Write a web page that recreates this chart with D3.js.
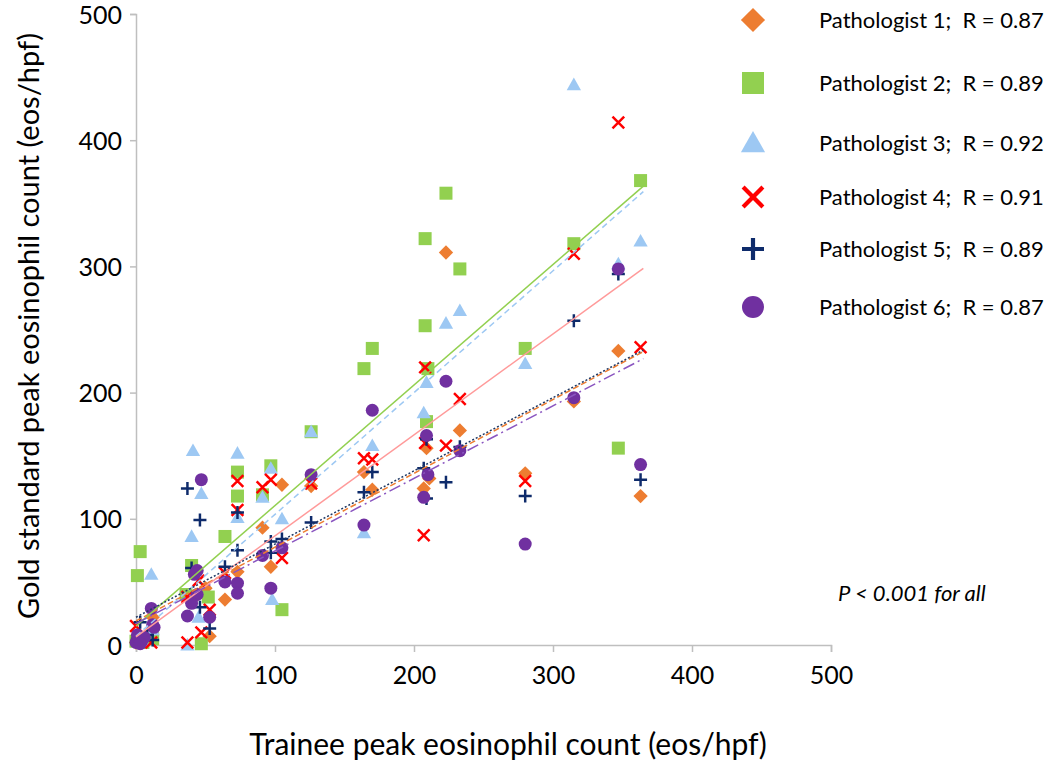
<!DOCTYPE html>
<html><head><meta charset="utf-8">
<script src="https://cdn.jsdelivr.net/npm/d3@7"></script>
<style>body{margin:0;background:#fff}svg{display:block}</style>
</head><body><svg id="c" width="1050" height="766"></svg>
<script>
// ---------- data ----------
const xTicks = [0,100,200,300,400,500];
const yTicks = [0,100,200,300,400,500];
const seriesNames = ["Pathologist 1;  R = 0.87","Pathologist 2;  R = 0.89","Pathologist 3;  R = 0.92","Pathologist 4;  R = 0.91","Pathologist 5;  R = 0.89","Pathologist 6;  R = 0.87"];
const p1 = [[363,118],[347,233],[315,193],[280,136],[233,170],[223,311],[209,156],[211,132],[207,124],[170,123],[164,137],[126,126],[105,127],[91,93],[97,62],[73,58],[64,36],[53,7],[44,40],[50,45],[10,10],[3,5],[0,2],[12,22]];
const p2 = [[363,368],[347,156],[315,318],[280,235],[233,298],[223,358],[208,322],[208,253],[210,219],[209,177],[170,235],[164,219],[126,169],[105,28],[97,142],[91,119],[73,137],[73,118],[64,86],[52,38],[47,1],[40,63],[36,40],[3,74],[1,55],[12,5],[5,2],[0,3]];
const p3 = [[363,320],[347,302],[315,444],[280,223],[233,265],[223,255],[209,208],[207,184],[170,158],[164,89],[126,169],[105,100],[97,140],[98,36],[91,117],[73,152],[73,101],[47,120],[41,154],[40,86],[45,22],[37,0],[11,56],[5,3],[2,8],[12,12]];
const p4 = [[363,236],[347,414],[315,310],[280,130],[233,195],[223,158],[208,220],[208,160],[207,87],[170,147],[164,148],[126,128],[105,69],[97,131],[91,125],[73,130],[73,107],[64,57],[53,28],[47,10],[45,51],[37,38],[37,2],[0,15],[11,2],[5,8]];
const p5 = [[363,131],[347,294],[315,257],[280,118],[233,157],[223,129],[209,163],[207,140],[209,116],[170,137],[164,121],[126,97],[105,84],[97,82],[97,73],[73,105],[73,75],[64,62],[53,13],[46,30],[46,99],[40,61],[37,124],[3,18],[12,4],[8,8],[1,5]];
const p6 = [[363,143],[347,298],[315,196],[280,80],[233,154],[223,209],[209,166],[210,135],[207,117],[170,186],[164,95],[126,135],[105,77],[97,45],[91,71],[73,49],[73,41],[64,50],[53,22],[47,131],[44,59],[42,56],[44,40],[40,33],[37,23],[11,29],[13,14],[12,16],[0,2],[2,5],[4,3],[1,8],[6,6],[3,1]];
// trendline intercepts and slopes, fitted over x = 0..365
const trendIntercepts = [19, 15, 7, 6.5, 22, 17];
const trendSlopes = [0.585, 0.955, 0.965, 0.80, 0.58, 0.575];
const trendRange = [0, 365];

// ---------- styles ----------
const series = [p1,p2,p3,p4,p5,p6];
const colors = ["#ED7D31","#92D050","#9DC8F3","#FF0000","#0E2B6B","#7030A0"];
const lineColors = ["#ED7D31","#92D050","#9DC8F3","#FF9A9A","#1F3864","#8A55C0"];
const lineDash = ["6,3",null,"6,4",null,"2,2","12,4,2,4"];
const shapes = ["diamond","square","triangle","x","plus","circle"];

const svg = d3.select("#c");
const x = d3.scaleLinear().domain([0,500]).range([136,831]);
const y = d3.scaleLinear().domain([0,500]).range([645,14]);
const FONT = "Lato, 'Open Sans', sans-serif";

// axes
const gx = svg.append("g").attr("transform","translate(0,645)")
  .call(d3.axisBottom(x).tickValues(xTicks).tickSize(7).tickPadding(14));
const gy = svg.append("g").attr("transform","translate(136,0)")
  .call(d3.axisLeft(y).tickValues(yTicks).tickSize(6).tickPadding(8));
[gx,gy].forEach(g=>{
  g.select(".domain").attr("stroke","#BFBFBF").attr("stroke-width",1.5);
  g.selectAll(".tick line").attr("stroke","#BFBFBF").attr("stroke-width",1.5);
  g.selectAll(".tick text").attr("fill","#000").style("font-family",FONT).style("font-size","25px");
});
gy.selectAll(".tick text").attr("dy","0.36em");

function marker(g, shape, size, color){
  const s = size;
  if(shape==="diamond"){
    g.append("path").attr("d",`M0,${-s*0.55}L${s*0.55},0L0,${s*0.55}L${-s*0.55},0Z`).attr("fill",color);
  } else if(shape==="square"){
    g.append("rect").attr("x",-s/2).attr("y",-s/2).attr("width",s).attr("height",s).attr("fill",color);
  } else if(shape==="triangle"){
    g.append("path").attr("d",`M0,${-s*0.55}L${s*0.55},${s*0.42}L${-s*0.55},${s*0.42}Z`).attr("fill",color);
  } else if(shape==="x"){
    const h=s*0.45;
    g.append("path").attr("d",`M${-h},${-h}L${h},${h}M${-h},${h}L${h},${-h}`).attr("stroke",color).attr("stroke-width",s*0.19).attr("fill","none");
  } else if(shape==="plus"){
    const h=s*0.5;
    g.append("path").attr("d",`M${-h},0L${h},0M0,${-h}L0,${h}`).attr("stroke",color).attr("stroke-width",s*0.19).attr("fill","none");
  } else {
    g.append("circle").attr("r",s*0.5).attr("fill",color);
  }
}

// points
series.forEach((data,i)=>{
  const g = svg.append("g");
  data.forEach(d=>{
    const m = g.append("g").attr("transform",`translate(${x(d[0])},${y(d[1])})`);
    marker(m, shapes[i], 13, colors[i]);
  });
});

// trendlines
const lineGen = d3.line().x(d=>x(d[0])).y(d=>y(d[1]));
trendIntercepts.forEach((a,i)=>{
  const b = trendSlopes[i];
  const pts = trendRange.map(v=>[v, a+b*v]);
  svg.append("path").attr("d",lineGen(pts)).attr("fill","none")
    .attr("stroke",lineColors[i]).attr("stroke-width",1.5)
    .attr("stroke-dasharray",lineDash[i]);
});

// axis titles
svg.append("text").attr("x",508).attr("y",755).attr("text-anchor","middle")
  .style("font-family",FONT).style("font-size","30px").text("Trainee peak eosinophil count (eos/hpf)");
svg.append("text").attr("transform","translate(39,326) rotate(-90)").attr("text-anchor","middle")
  .style("font-family",FONT).style("font-size","29px").text("Gold standard peak eosinophil count (eos/hpf)");

// legend
const legY = [20,83,143,197,249,307];
seriesNames.forEach((n,i)=>{
  const m = svg.append("g").attr("transform",`translate(753,${legY[i]})`);
  marker(m, shapes[i], 22, colors[i]);
  svg.append("text").attr("x",819).attr("y",legY[i]+8).style("font-family",FONT).style("font-size","22px")
    .style("white-space","pre").text(n);
});

svg.append("text").attr("x",838).attr("y",601).style("font-family",FONT).style("font-size","22px")
  .style("font-style","italic").text("P < 0.001 for all");
</script></body></html>
